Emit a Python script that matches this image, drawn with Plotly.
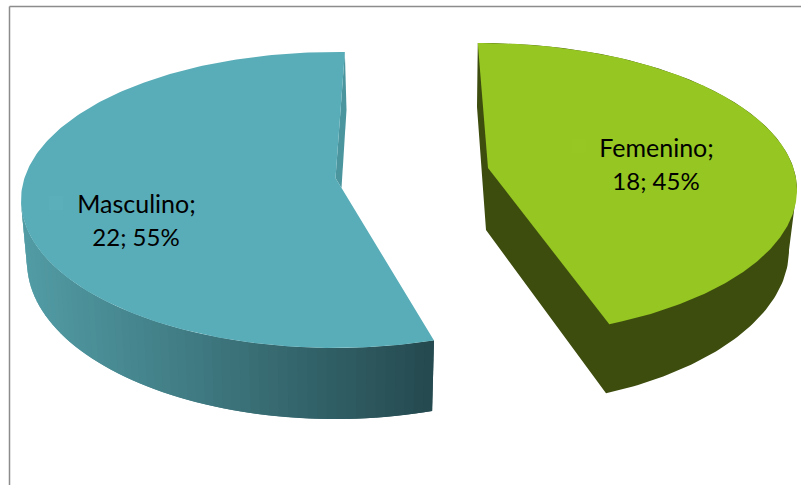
import numpy as np
import plotly.graph_objects as go

categories = ["Masculino", "Femenino"]
values = [22, 18]

W, H = 801, 485
total = sum(values)
pcts = [round(100 * v / total) for v in values]

FONT = "Lato, Carlito, Calibri, sans-serif"


def rim(e, t_deg):
    """Clockwise degrees from 12 o'clock to a point on an ellipse (cx, cy, rx, ry)."""
    t = np.radians(np.asarray(t_deg, dtype=float))
    return e[0] + e[2] * np.sin(t), e[1] - e[3] * np.cos(t)


def poly(x, y, color):
    return go.Scatter(x=list(x), y=list(y), mode="lines", fill="toself", fillcolor=color,
                      line=dict(width=0, color=color), hoverinfo="skip", showlegend=False)


def mix(a, b, f):
    c = [round(a[i] + (b[i] - a[i]) * f) for i in range(3)]
    return f"rgb({c[0]},{c[1]},{c[2]})"


fig = go.Figure()

# ---------- Masculino ----------
m_top = (335, 200, 314, 148)
m_bot = (335, 262, 308, 157)
m_start = 1.8
m_end = m_start - 360 * values[0] / total * 1.011
m_apex = (335.5, 178)
m_left = -90

LEFT_C, RIGHT_C = (82, 156, 165), (36, 72, 78)
edges = np.linspace(m_left, m_end, 61)
for i in range(60):
    # each band runs on under its neighbour, so no seam shows between them
    t = np.linspace(edges[i], edges[min(i + 2, 60)], 6)
    ax, ay = rim(m_top, t)
    cx_, cy_ = rim(m_bot, t)
    f = (rim(m_bot, [edges[i]])[0][0] - 27) / (433 - 27)
    fig.add_trace(poly(np.r_[ax, cx_[::-1]], np.r_[ay, cy_[::-1]], mix(LEFT_C, RIGHT_C, f)))

# back wall sliver
sx, sy = rim(m_top, [m_start])
fig.add_trace(poly([m_apex[0], sx[0], 346.5, 341.5], [m_apex[1], sy[0], 110, 188], "#4B959E"))

# top face
t = np.linspace(m_start, m_end, 240)
x, y = rim(m_top, t)
fig.add_trace(poly(np.r_[m_apex[0], x], np.r_[m_apex[1], y], "#59ADB8"))

# ---------- Femenino ----------
f_top = (480, 190, 317, 147)
f_bot = (480, 250, 309, 157)
f_start = -0.4
f_end = f_start + 360 * values[1] / total * 0.965
f_apex = (488, 168)

t = np.linspace(f_start, f_end, 240)
x, y = rim(f_top, t)
wall_t = np.linspace(f_end, 90, 60)
bx, by = rim(f_bot, wall_t)
rx_, ry_ = rim(f_top, np.linspace(90, f_start, 100))
fig.add_trace(poly(np.r_[bx, rx_, 477, 486], np.r_[by, ry_, 107, 230], "#3D4D0E"))
fig.add_trace(poly(np.r_[f_apex[0], x], np.r_[f_apex[1], y], "#95C622"))

# ---------- Labels ----------
key_x = [56, 579]
key_y = [203, 146]
key_c = ["#5AAFBA", "#96C723"]
fig.add_trace(go.Scatter(x=key_x, y=key_y, mode="markers", hoverinfo="skip", showlegend=False,
                         marker=dict(symbol="square", size=14, color=key_c, line=dict(width=0))))
line1_x = [136.5, 656.5]
line1_y = [206.5, 150.5]
line2_x = [136, 656]
line2_y = [239.5, 183.5]
fig.add_trace(go.Scatter(x=line1_x, y=line1_y, mode="text", hoverinfo="skip", showlegend=False,
                         text=[f"{c};" for c in categories],
                         textfont=dict(family=FONT, size=25, color="#000000")))
fig.add_trace(go.Scatter(x=line2_x, y=line2_y, mode="text", hoverinfo="skip", showlegend=False,
                         text=[f"{v}; {p}%" for v, p in zip(values, pcts)],
                         textfont=dict(family=FONT, size=24, color="#000000")))

# Chart frame (only top and left edges are in view)
fig.add_shape(type="line", x0=9.5, x1=9.5, y0=6.5, y1=H, line=dict(color="#8C8C8C", width=1.5))
fig.add_shape(type="line", x0=9.5, x1=W, y0=6.5, y1=6.5, line=dict(color="#8C8C8C", width=1.5))

fig.update_layout(
    width=W, height=H, margin=dict(l=0, r=0, t=0, b=0),
    paper_bgcolor="white", plot_bgcolor="white", showlegend=False,
    xaxis=dict(range=[0, W], visible=False, fixedrange=True),
    yaxis=dict(range=[H, 0], visible=False, fixedrange=True),
)
fig.write_html("out.html", config={"displayModeBar": False},
               post_script="document.body.style.margin='0';document.body.style.overflow='hidden';")
